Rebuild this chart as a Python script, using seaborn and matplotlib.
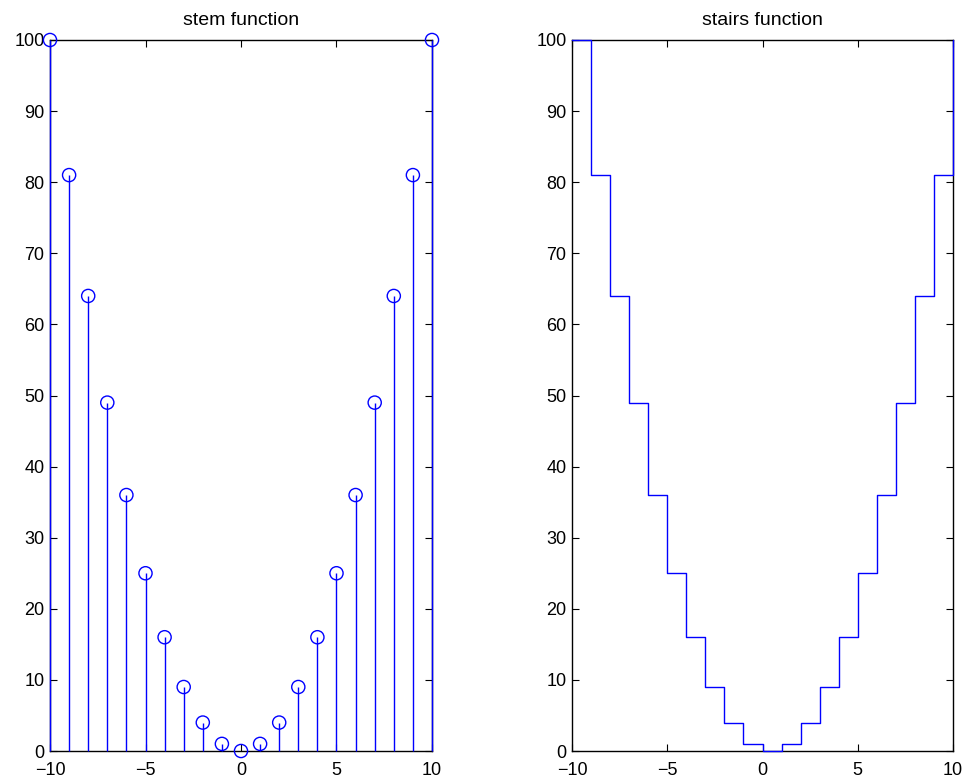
import numpy as np
import pandas as pd
import matplotlib
matplotlib.use("Agg")
import matplotlib.pyplot as plt
import seaborn as sns

x_vals = [-10, -9, -8, -7, -6, -5, -4, -3, -2, -1, 0, 1, 2, 3, 4, 5, 6, 7, 8, 9, 10]
y_vals = [100, 81, 64, 49, 36, 25, 16, 9, 4, 1, 0, 1, 4, 9, 16, 25, 36, 49, 64, 81, 100]
titles = ["stem function", "stairs function"]
x_ticks = [-10, -5, 0, 5, 10]
y_ticks = [0, 10, 20, 30, 40, 50, 60, 70, 80, 90, 100]

sns.set_theme(style="white")
plt.rcParams["font.family"] = ["Liberation Sans", "DejaVu Sans"]
plt.rcParams["axes.unicode_minus"] = True

df = pd.DataFrame({"x": x_vals, "y": y_vals})
blue = "#0000ff"

fig = plt.figure(figsize=(9.64, 7.83), dpi=100)
ax1 = fig.add_axes([50/964, 32/783, 382/964, 711/783])
ax2 = fig.add_axes([572/964, 32/783, 381/964, 711/783])

# stem
ax1.vlines(df["x"], 0, df["y"], color=blue, linewidth=1.0, zorder=3, clip_on=False)
sns.scatterplot(data=df, x="x", y="y", ax=ax1, marker="o", s=90,
                facecolors="none", edgecolor=blue, linewidth=1.0,
                clip_on=False, zorder=4)

# stairs
sns.lineplot(data=df, x="x", y="y", ax=ax2, color=blue, linewidth=1.0,
             drawstyle="steps-post", zorder=3, clip_on=False)

for ax, t in zip([ax1, ax2], titles):
    ax.set_xlim(-10, 10)
    ax.set_ylim(0, 100)
    ax.set_xticks(x_ticks)
    ax.set_yticks(y_ticks)
    ax.set_xticklabels([str(v).replace("-", "\u2212") for v in x_ticks])
    ax.set_xlabel("")
    ax.set_ylabel("")
    ax.set_title(t, fontsize=14, pad=11, color="black")
    ax.tick_params(direction="in", length=5, width=0.8, colors="black",
                   labelsize=13, top=True, right=True, bottom=True, left=True)
    ax.tick_params(axis="x", pad=8)
    ax.tick_params(axis="y", pad=4)
    for s in ax.spines.values():
        s.set_color("black")
        s.set_linewidth(1.0)
        s.set_visible(True)
    ax.set_facecolor("white")

fig.savefig("out.png", dpi=100, facecolor="white")
